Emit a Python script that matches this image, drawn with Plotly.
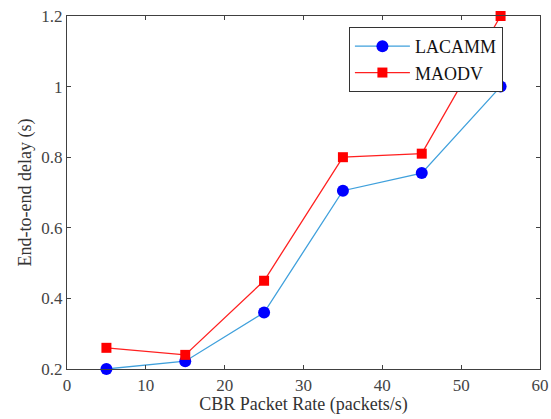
import plotly.graph_objects as go

rate = [5, 15, 25, 35, 45, 55]
lacamm = [0.20, 0.222, 0.36, 0.705, 0.755, 1.0]
maodv = [0.26, 0.24, 0.45, 0.80, 0.81, 1.2]

x_ticks = [0, 10, 20, 30, 40, 50, 60]
y_ticks = [0.2, 0.4, 0.6, 0.8, 1.0, 1.2]
y_tick_labels = ["0.2", "0.4", "0.6", "0.8", "1", "1.2"]

FONT = "Liberation Serif, Times New Roman, serif"
AX = "#404040"

fig = go.Figure()
fig.add_trace(go.Scatter(
    x=rate, y=lacamm, name="LACAMM", mode="lines+markers",
    line=dict(color="#3fa0dc", width=1.3),
    marker=dict(symbol="circle", size=12, color="#0000ff"),
    cliponaxis=False,
))
fig.add_trace(go.Scatter(
    x=rate, y=maodv, name="MAODV", mode="lines+markers",
    line=dict(color="#ff2020", width=1.3),
    marker=dict(symbol="square", size=10, color="#ff0000"),
    cliponaxis=False,
))

axis_common = dict(
    showgrid=False, zeroline=False, showline=True, linecolor=AX, linewidth=1.2,
    mirror="ticks", ticks="inside", ticklen=4, tickcolor=AX, automargin=False,
    tickfont=dict(family=FONT, size=17, color="#444444"),
)

fig.update_layout(
    width=551, height=419,
    margin=dict(l=67, r=11, t=16, b=50),
    paper_bgcolor="white", plot_bgcolor="white",
    font=dict(family=FONT, color="#333333"),
    xaxis=dict(range=[0, 60], tickvals=x_ticks,
               title=dict(text="CBR Packet Rate (packets/s)", font=dict(family=FONT, size=18, color="#333333"), standoff=2),
               **axis_common),
    yaxis=dict(range=[0.2, 1.2], tickvals=y_ticks, ticktext=y_tick_labels,
               title=dict(text="End-to-end delay (s)", font=dict(family=FONT, size=18, color="#333333"), standoff=4),
               **axis_common),
    legend=dict(x=0.596, y=0.969, xanchor="left", yanchor="top",
                bgcolor="white", bordercolor="#333333", borderwidth=1,
                font=dict(family=FONT, size=18, color="#111111"),
                tracegroupgap=0, itemwidth=55, valign="middle"),
    showlegend=True,
)

fig.write_html("out.html")
